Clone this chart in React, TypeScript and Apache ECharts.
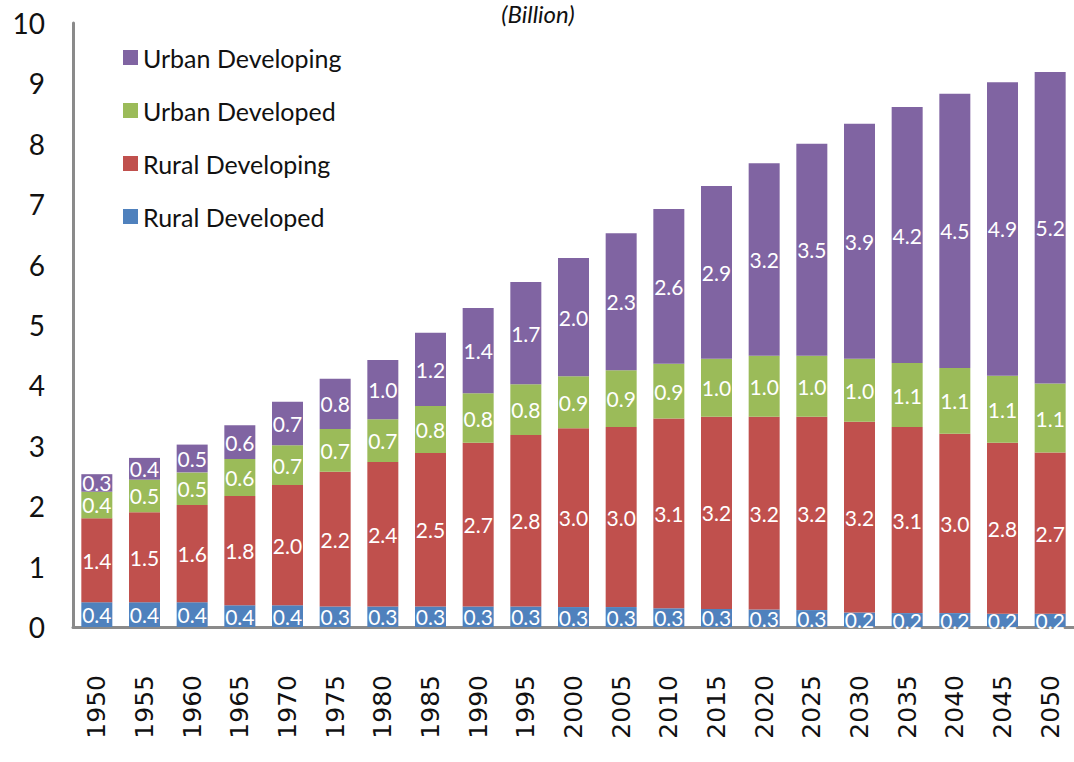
import React, { useEffect, useRef } from "react";
import * as echarts from "echarts";

const years = ["1950","1955","1960","1965","1970","1975","1980","1985","1990","1995","2000","2005","2010","2015","2020","2025","2030","2035","2040","2045","2050"];
const ruralDeveloped = [0.41,0.41,0.41,0.36,0.36,0.34,0.34,0.34,0.34,0.34,0.33,0.33,0.31,0.30,0.29,0.28,0.24,0.23,0.23,0.22,0.22];
const ruralDeveloping = [1.39,1.49,1.61,1.81,1.99,2.23,2.39,2.54,2.71,2.84,2.96,2.98,3.14,3.18,3.19,3.20,3.16,3.08,2.97,2.83,2.67];
const urbanDeveloped = [0.44,0.54,0.54,0.61,0.66,0.71,0.71,0.78,0.82,0.84,0.86,0.94,0.91,0.96,1.01,1.01,1.04,1.06,1.09,1.11,1.14];
const urbanDeveloping = [0.29,0.36,0.46,0.56,0.72,0.83,0.98,1.21,1.41,1.69,1.96,2.27,2.56,2.86,3.19,3.51,3.89,4.24,4.54,4.86,5.16];
const legendOrder = ["Urban Developing", "Urban Developed", "Rural Developing", "Rural Developed"];
const yTicks = { min: 0, max: 10, interval: 1 };

const fmt = (p: any) => (Math.round(p.value * 10) / 10).toFixed(1);

export default function App() {
  const ref = useRef<HTMLDivElement>(null);
  useEffect(() => {
    if (!ref.current) return;
    const chart = echarts.init(ref.current, null, { renderer: "svg" });
    const mk = (name: string, data: number[], color: string) => ({
      name,
      type: "bar",
      stack: "total",
      data,
      barWidth: 31,
      itemStyle: { color },
      label: {
        show: true,
        position: "inside",
        formatter: fmt,
        color: "#ffffff",
        fontFamily: "Lato",
        fontSize: 21,
      },
    });
    chart.setOption({
      animation: false,
      backgroundColor: "#ffffff",
      grid: { left: 73, right: -10, top: 23, bottom: 135, containLabel: false },
      legend: {
        data: legendOrder,
        orient: "vertical",
        left: 118,
        top: 40,
        icon: "rect",
        itemWidth: 15,
        itemHeight: 15,
        itemGap: 28,
        textStyle: { fontFamily: "Lato", fontSize: 25, color: "#111111", lineHeight: 25 },
      },
      graphic: [
        {
          type: "text",
          x: 538,
          y: 25,
          style: {
            text: "(Billion)",
            font: "italic 24px Lato",
            fill: "#111111",
            textAlign: "center",
            textVerticalAlign: "bottom",
          },
        },
      ],
      xAxis: {
        type: "category",
        data: years,
        axisLine: { show: true, lineStyle: { color: "#8a8a8a", width: 3 } },
        axisTick: { show: false },
        axisLabel: {
          rotate: 90,
          margin: 48,
          fontFamily: "DejaVu Sans",
          fontSize: 25,
          color: "#111111",
        },
      },
      yAxis: {
        type: "value",
        min: yTicks.min,
        max: yTicks.max,
        interval: yTicks.interval,
        axisLine: { show: true, lineStyle: { color: "#8a8a8a", width: 3 } },
        axisTick: { show: false },
        splitLine: { show: false },
        axisLabel: {
          margin: 28,
          fontFamily: "Lato",
          fontSize: 28,
          color: "#111111",
        },
      },
      series: [
        mk("Rural Developed", ruralDeveloped, "#4F81BD"),
        mk("Rural Developing", ruralDeveloping, "#C0504D"),
        mk("Urban Developed", urbanDeveloped, "#9BBB59"),
        mk("Urban Developing", urbanDeveloping, "#8064A2"),
      ],
    });
    return () => chart.dispose();
  }, []);
  return (
    <div
      ref={ref}
      style={{ position: "fixed", left: 0, top: 0, width: 1074, height: 762, background: "#fff" }}
    />
  );
}
